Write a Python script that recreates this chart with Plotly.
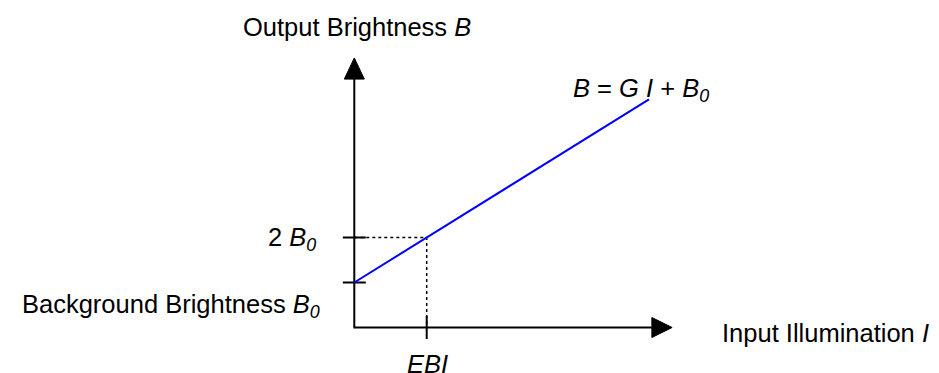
import plotly.graph_objects as go

# ---- chart values (I = input illumination, B = output brightness) ----
B0 = 1.0            # background brightness
EBI = 1.0           # equivalent background illumination (B = 2 B0)
line_I = [0.0, 4.07]
line_B = [1.0, 5.07]
y_ticks = [1.0, 2.0]
x_ticks = [1.0]

# axis extents (data units) and arrowheads
x_axis_end, x_arrow_tip = 4.11, 4.39
y_axis_end, y_arrow_tip = 5.52, 5.99

# page layout: the browser body adds an 8px margin around the figure
PAGE_W, PAGE_H, BODY = 939, 373, 8
W, H = PAGE_W - 2 * BODY, PAGE_H - BODY
ORIGIN_PX = (354.3 - BODY, 327.5 - BODY)   # where the axes cross, in figure pixels
PX_X, PX_Y = 72.4, 45.0

x_range = [-ORIGIN_PX[0] / PX_X, (W - ORIGIN_PX[0]) / PX_X]
y_range = [(ORIGIN_PX[1] - H) / PX_Y, ORIGIN_PX[1] / PX_Y]


def dx(px):
    return px / PX_X


def dy(px):
    return px / PX_Y


def at(sx, sy):
    # page pixel -> data coordinates
    return (sx - BODY - ORIGIN_PX[0]) / PX_X, (ORIGIN_PX[1] - (sy - BODY)) / PX_Y


FONT = dict(family="Liberation Sans, Arial, sans-serif", size=25.5, color="black")
BLACK = "black"

fig = go.Figure()

# axes
fig.add_trace(go.Scatter(x=[0, 0, x_axis_end], y=[y_axis_end, 0, 0], mode="lines",
                         line=dict(color=BLACK, width=2)))
# arrowheads
fig.add_trace(go.Scatter(x=[-dx(10), dx(10), 0, -dx(10)],
                         y=[y_axis_end, y_axis_end, y_arrow_tip, y_axis_end],
                         mode="lines", fill="toself", fillcolor=BLACK,
                         line=dict(color=BLACK, width=1)))
fig.add_trace(go.Scatter(x=[x_axis_end, x_axis_end, x_arrow_tip, x_axis_end],
                         y=[-dy(10), dy(10), 0, -dy(10)],
                         mode="lines", fill="toself", fillcolor=BLACK,
                         line=dict(color=BLACK, width=1)))

# tick marks
for yt in y_ticks:
    fig.add_trace(go.Scatter(x=[-dx(11.5), dx(11.5)], y=[yt, yt], mode="lines",
                             line=dict(color=BLACK, width=2)))
for xt in x_ticks:
    fig.add_trace(go.Scatter(x=[xt, xt], y=[-dy(11.5), dy(11.5)], mode="lines",
                             line=dict(color=BLACK, width=2)))

# dotted guides at B = 2 B0
fig.add_trace(go.Scatter(x=[0, EBI, EBI], y=[2 * B0, 2 * B0, 0], mode="lines",
                         line=dict(color=BLACK, width=1.5, dash="dot")))

# response line
fig.add_trace(go.Scatter(x=line_I, y=line_B, mode="lines",
                         line=dict(color="#0000ff", width=2)))

# labels (positions given in page pixels)
labels = [
    ("Output Brightness <i>B</i>", at(357, 27), "center"),
    ("<i>B</i> = <i>G I</i> + <i>B<sub>0</sub></i>", at(571, 90), "left"),
    ("2 <i>B<sub>0</sub></i>", at(318, 239), "right"),
    ("Background Brightness <i>B<sub>0</sub></i>", at(322, 306), "right"),
    ("<i>EBI</i>", at(427, 364), "center"),
    ("Input Illumination <i>I</i>", at(720, 333), "left"),
]
for text, (x, y), xa in labels:
    fig.add_annotation(x=x, y=y, text=text, showarrow=False, xanchor=xa, yanchor="middle",
                       font=FONT)

fig.update_layout(
    width=W, height=H,
    margin=dict(l=0, r=0, t=0, b=0),
    paper_bgcolor="white", plot_bgcolor="white",
    showlegend=False,
)
fig.update_xaxes(range=x_range, visible=False, fixedrange=True)
fig.update_yaxes(range=y_range, visible=False, fixedrange=True)

fig.write_html("out.html")
